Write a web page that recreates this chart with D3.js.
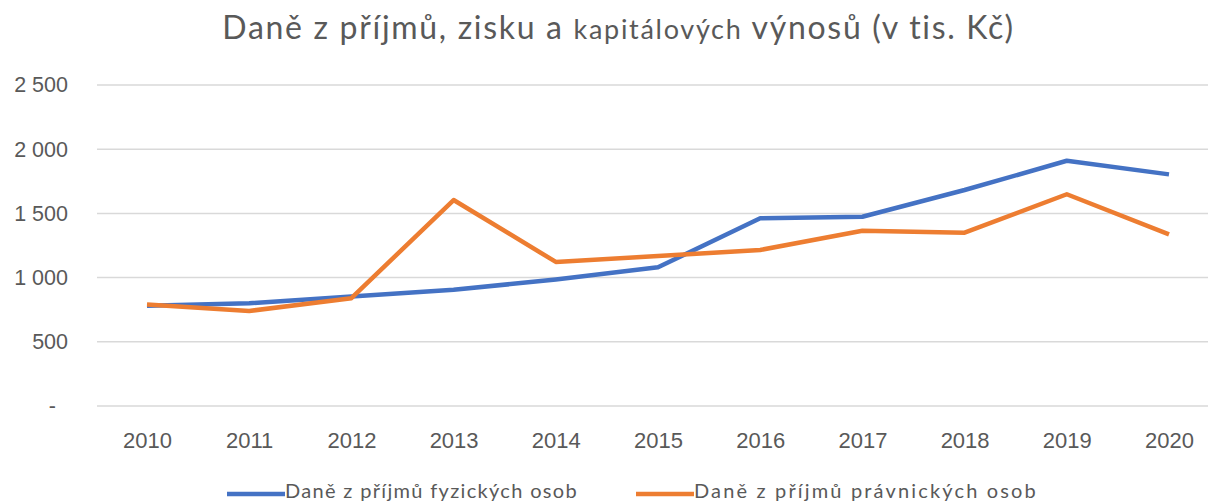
<!DOCTYPE html>
<html>
<head>
<meta charset="utf-8">
<script src="https://cdn.jsdelivr.net/npm/d3@7"></script>
<style>
  html, body { margin: 0; padding: 0; background: #fff; }
  svg { display: block; font-family: Lato, "Open Sans", sans-serif; }
</style>
</head>
<body>
<svg id="chart" width="1208" height="503"></svg>
<script>
// Roky a hodnoty daní (v tis. Kč)
const years = ["2010","2011","2012","2013","2014","2015","2016","2017","2018","2019","2020"];
const fyzicke = [780, 800, 852, 905, 985, 1080, 1462, 1474, 1682, 1910, 1804];
const pravnicke = [790, 740, 840, 1604, 1122, 1168, 1215, 1365, 1350, 1649, 1337];
const yTicks = [0, 500, 1000, 1500, 2000, 2500];
const seriesNames = ["Daně z příjmů fyzických osob", "Daně z příjmů právnických osob"];
const colors = ["#4472C4", "#ED7D31"];

const svg = d3.select("#chart");
const textColor = "#595959";

// Roztáhne text na požadovanou šířku pomocí prostrkání písmen
function fitWidth(node, target) {
  const len = node.getComputedTextLength();
  const n = node.textContent.length;
  if (n > 1) d3.select(node).attr("letter-spacing", ((target - len) / n).toFixed(3));
}

const x = d3.scalePoint().domain(years).range([147, 1169]);
const y = d3.scaleLinear().domain([0, 2500]).range([406, 85]);

const cz = d3.formatLocale({ decimal: ",", thousands: "\u00a0", grouping: [3], currency: ["", " Kč"] });
const fmt = v => v === 0 ? "-" : cz.format(",")(v);

// Mřížka
svg.append("g")
  .selectAll("line")
  .data(yTicks)
  .join("line")
  .attr("x1", 97).attr("x2", 1208)
  .attr("y1", d => y(d)).attr("y2", d => y(d))
  .attr("stroke", "#d9d9d9").attr("stroke-width", 1.5);

// Osa Y
const yAxis = svg.append("g")
  .attr("transform", "translate(68,0)")
  .call(d3.axisLeft(y).tickValues(yTicks).tickFormat(fmt).tickSize(0).tickPadding(0));
yAxis.select(".domain").remove();
yAxis.selectAll("text")
  .attr("fill", textColor).attr("font-size", 21.5)
  .attr("dx", d => d === 0 ? -12 : 0);

// Osa X
const xAxis = svg.append("g")
  .attr("transform", "translate(0,432)")
  .call(d3.axisBottom(x).tickSize(0).tickPadding(0));
xAxis.select(".domain").remove();
xAxis.selectAll("text")
  .attr("fill", textColor).attr("font-size", 22).attr("dy", "0.71em");

// Křivky
const line = d3.line().x((d, i) => x(years[i])).y(d => y(d));
[fyzicke, pravnicke].forEach((s, i) => {
  svg.append("path")
    .datum(s)
    .attr("fill", "none")
    .attr("stroke", colors[i])
    .attr("stroke-width", 4.5)
    .attr("stroke-linejoin", "round")
    .attr("d", line);
});

// Nadpis
const title = svg.append("text")
  .attr("x", 618.5).attr("y", 39)
  .attr("text-anchor", "middle")
  .attr("fill", textColor)
  .attr("font-size", 32);
title.append("tspan").text("Daně z příjmů, zisku a ");
title.append("tspan").attr("font-size", 27).text("kapitálových");
title.append("tspan").text(" výnosů (v tis. Kč)");
fitWidth(title.node(), 793);

// Legenda
const legendX = [227, 636];
const legendW = [293, 344];
const legend = svg.append("g");
seriesNames.forEach((name, i) => {
  legend.append("line")
    .attr("x1", legendX[i]).attr("x2", legendX[i] + 58)
    .attr("y1", 494).attr("y2", 494)
    .attr("stroke", colors[i]).attr("stroke-width", 4.5);
  const t = legend.append("text")
    .attr("x", legendX[i] + 58).attr("y", 498)
    .attr("fill", textColor).attr("font-size", 20)
    .text(name);
  fitWidth(t.node(), legendW[i]);
});
</script>
</body>
</html>
